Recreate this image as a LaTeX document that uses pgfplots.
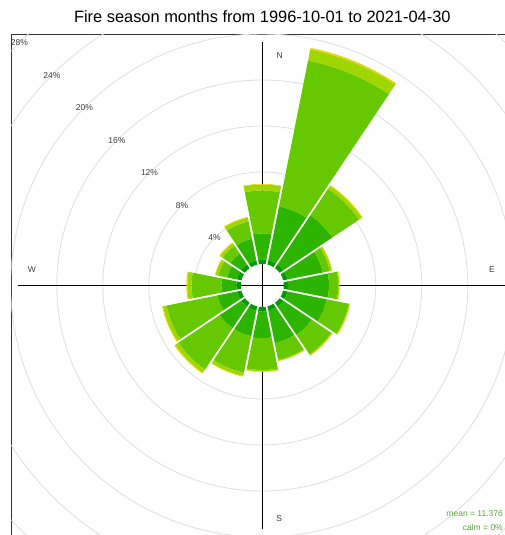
\documentclass[border=0pt]{standalone}
\usepackage{fontspec}
\setmainfont{Liberation Sans}
\usepackage{pgfplots}
\usepackage{pgfplotstable}
\pgfplotsset{compat=1.18}

\definecolor{ws1}{RGB}{0,155,0}
\definecolor{ws2}{RGB}{45,180,0}
\definecolor{ws3}{RGB}{102,200,0}
\definecolor{ws4}{RGB}{160,214,0}
\definecolor{ws5}{RGB}{232,214,0}
\definecolor{gridc}{RGB}{224,224,224}
\definecolor{labc}{RGB}{60,60,60}
\definecolor{meanc}{RGB}{90,165,60}

% cumulative frequency (%) at the top of each band
\pgfplotstableread{
dir   c1   c2    c3    c4    c5
0     0.39 2.65  6.39  6.91  6.97
22.5  0.39 5.17 18.09 19.09 19.22
45    0.39 5.52  8.30  8.61  8.68
67.5  0.39 3.52  4.13  4.30  4.35
90    0.39 3.93  4.74  4.83  4.85
112.5 0.39 3.87  5.83  5.91  5.94
135   0.39 3.35  5.39  5.48  5.52
157.5 0.39 3.26  4.74  4.83  4.85
180   0.39 2.72  5.48  5.61  5.64
202.5 0.39 2.65  5.87  6.17  6.23
225   0.39 2.65  6.96  7.30  7.39
247.5 0.39 2.13  6.65  6.96  7.03
270   0.39 1.67  4.28  4.65  4.74
292.5 0.39 1.26  2.04  2.30  2.35
315   0.39 1.52  2.35  2.61  2.68
337.5 0.39 2.30  3.83  4.17  4.23
}\rose

\def\rosescale{11.5}% pt per percent
\def\rosehole{21.5}% pt, calm hole
\def\rosegap{1.0}% pt, half the white gap
\pgfdeclareplotmark{blank}{}

\pgfplotsset{
  sector/.style n args={3}{
    only marks, mark=blank, scatter,
    point meta=\thisrow{dir},
    visualization depends on={\thisrow{dir}\as\sdir},
    visualization depends on={#1\as\rin},
    visualization depends on={#2\as\rout},
    scatter/@pre marker code/.code={%
      \pgfmathsetmacro\ri{\rosehole+\rosescale*\rin}%
      \pgfmathsetmacro\ro{\rosehole+\rosescale*\rout}%
      \pgfmathsetmacro\dli{asin(\rosegap/\ri)}%
      \pgfmathsetmacro\dlo{asin(\rosegap/\ro)}%
      \pgfmathsetmacro\aoa{90-\sdir-11.25+\dlo}%
      \pgfmathsetmacro\aob{90-\sdir+11.25-\dlo}%
      \pgfmathsetmacro\aia{90-\sdir-11.25+\dli}%
      \pgfmathsetmacro\aib{90-\sdir+11.25-\dli}%
      \pgfpathmoveto{\pgfpointpolar{\aoa}{\ro pt}}%
      \pgfpatharc{\aoa}{\aob}{\ro pt}%
      \pgfpathlineto{\pgfpointpolar{\aib}{\ri pt}}%
      \pgfpatharc{\aib}{\aia}{\ri pt}%
      \pgfpathclose
      \pgfsetfillcolor{#3}%
      \pgfusepath{fill}%
    },
    scatter/@post marker code/.code={},
  },
}

\begin{document}
\begin{tikzpicture}
\begin{axis}[
  at={(0pt,0pt)}, anchor=origin,
  scale only axis,
  x=11.5pt, y=11.5pt,
  xmin=-21.83, xmax=21.83, ymin=-21.83, ymax=21.83,
  xtick=\empty, ytick=\empty,
  axis line style={line width=1.3pt, black!80},
  every axis title shift=0pt,
  title={Fire season months from 1996-10-01 to 2021-04-30},
  title style={font=\fontsize{16.4}{19}\selectfont, at={(0.5,1)}, anchor=center, yshift=18pt},
]
% grid circles
\pgfplotsinvokeforeach{4,8,12,16,20,24,28}{
  \draw[gridc, line width=0.9pt] (axis cs:0,0) circle[radius={(21.5+11.5*#1)*1pt}];
}
% compass cross
\draw[black, line width=1pt] (axis cs:-21.2,0) -- (axis cs:21.2,0);
\draw[black, line width=1pt] (axis cs:0,-21.2) -- (axis cs:0,21.2);

\addplot[sector={0}{\thisrow{c1}}{ws1}] table[x expr=0, y expr=0] {\rose};
\addplot[sector={\thisrow{c1}}{\thisrow{c2}}{ws2}] table[x expr=0, y expr=0] {\rose};
\addplot[sector={\thisrow{c2}}{\thisrow{c3}}{ws3}] table[x expr=0, y expr=0] {\rose};
\addplot[sector={\thisrow{c3}}{\thisrow{c4}}{ws4}] table[x expr=0, y expr=0] {\rose};
\addplot[sector={\thisrow{c4}}{\thisrow{c5}}{ws5}] table[x expr=0, y expr=0] {\rose};

% percentage labels
\pgfplotsinvokeforeach{4,8,12,16,20,24,28}{
  \node[labc, font=\fontsize{8.5}{10}\selectfont, inner sep=0pt]
    at (axis cs:{-(1.8696+#1)*0.7071},{(1.8696+#1)*0.7071}) {#1\%};
}
% compass labels
\node[labc, font=\fontsize{8.5}{10}\selectfont] at (axis cs:1.52,19.96) {N};
\node[labc, font=\fontsize{8.5}{10}\selectfont] at (axis cs:19.97,1.35) {E};
\node[labc, font=\fontsize{8.5}{10}\selectfont] at (axis cs:1.48,-20.3) {S};
\node[labc, font=\fontsize{8.5}{10}\selectfont] at (axis cs:-20.03,1.35) {W};
% summary
\node[meanc, font=\fontsize{8.5}{10}\selectfont, anchor=east, inner sep=0pt] at (axis cs:20.93,-19.87) {mean = 11.376};
\node[meanc, font=\fontsize{8.5}{10}\selectfont, anchor=east, inner sep=0pt] at (axis cs:20.93,-21.0) {calm = 0\%};
\end{axis}
\pgfresetboundingbox
\path[use as bounding box] (-262.3pt,-249.5pt) rectangle (241.7pt,285.5pt);
\end{tikzpicture}
\end{document}
